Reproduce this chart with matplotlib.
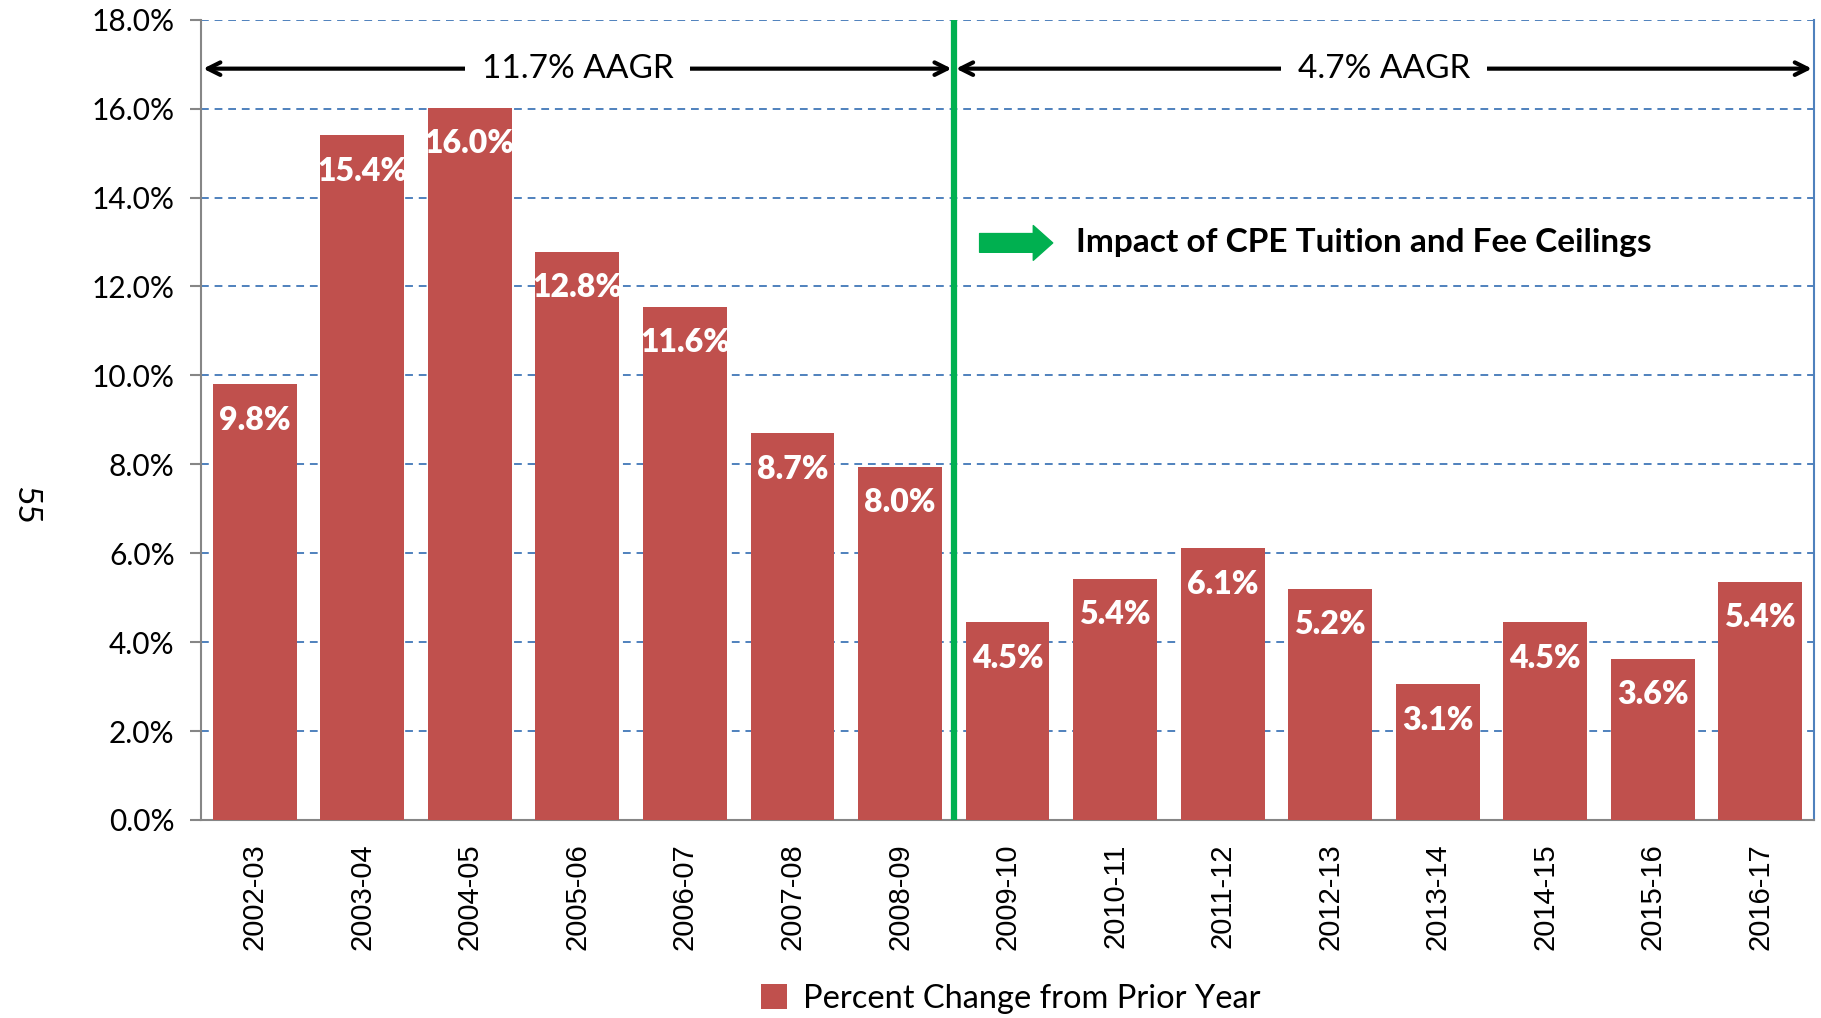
import matplotlib
matplotlib.use("Agg")
import matplotlib.pyplot as plt
from matplotlib.ticker import FuncFormatter, MultipleLocator

years = ["2002-03", "2003-04", "2004-05", "2005-06", "2006-07", "2007-08", "2008-09",
         "2009-10", "2010-11", "2011-12", "2012-13", "2013-14", "2014-15", "2015-16", "2016-17"]
pct_change = [9.80, 15.40, 16.02, 12.78, 11.55, 8.70, 7.95,
              4.45, 5.43, 6.12, 5.20, 3.05, 4.45, 3.63, 5.36]
bar_labels = ["9.8%", "15.4%", "16.0%", "12.8%", "11.6%", "8.7%", "8.0%",
              "4.5%", "5.4%", "6.1%", "5.2%", "3.1%", "4.5%", "3.6%", "5.4%"]
aagr_before = "11.7% AAGR"
aagr_after = "4.7% AAGR"
annotation = "Impact of CPE Tuition and Fee Ceilings"
legend_label = "Percent Change from Prior Year"

NARROW = ["Lato", "DejaVu Sans"]
ARIAL = ["Liberation Sans", "DejaVu Sans"]

bar_color = "#C0504D"
grid_color = "#4F81BD"
green = "#00B050"
axis_gray = "#868686"

fig = plt.figure(figsize=(18.21, 10.18), dpi=100)
ax = fig.add_axes([0.1104, 0.1945, 0.8858, 0.7861])

x = list(range(len(years)))
bars = ax.bar(x, pct_change, width=0.78, color=bar_color, label=legend_label, zorder=3)

for xi, v, lab in zip(x, pct_change, bar_labels):
    ax.annotate(lab, (xi, v), xytext=(0, -26), textcoords="offset points",
                ha="center", va="center", color="white", fontweight="heavy",
                fontsize=23, family=NARROW, zorder=5)

ax.set_xlim(-0.5, len(years) - 0.5)
ax.set_ylim(0, 18)
ax.yaxis.set_major_locator(MultipleLocator(2))
ax.yaxis.set_major_formatter(FuncFormatter(lambda v, p: f"{v:.1f}%"))
ax.grid(axis="y", color=grid_color, linestyle=(0, (4, 3)), linewidth=1.4, zorder=1)
ax.set_axisbelow(True)

ax.set_xticks(x)
ax.set_xticklabels(years, rotation=90, fontsize=21, family=ARIAL)
ax.tick_params(axis="x", length=0, pad=17)
ax.tick_params(axis="y", length=8, width=1.5, color=axis_gray, direction="out", pad=11)
for lab in ax.get_yticklabels():
    lab.set_family(NARROW)
    lab.set_fontsize(21.5)

ax.spines["left"].set_color(axis_gray)
ax.spines["left"].set_linewidth(1.5)
ax.spines["bottom"].set_color(axis_gray)
ax.spines["bottom"].set_linewidth(1.5)
ax.spines["right"].set_color(grid_color)
ax.spines["right"].set_linewidth(1.5)
ax.spines["top"].set_visible(False)

# divider
ax.axvline(6.5, color=green, linewidth=4.5, zorder=4)

# AAGR arrows
arrow_y = 16.9
for (x0, x1, txt) in [(-0.5, 6.5, aagr_before), (6.5, 14.5, aagr_after)]:
    mid = (x0 + x1) / 2
    for end in (x0 + 0.02, x1 - 0.02):
        ax.annotate("", xy=(end, arrow_y), xytext=(mid, arrow_y),
                    arrowprops=dict(arrowstyle="->,head_length=0.9,head_width=0.45", lw=3.0,
                                    color="black", shrinkA=0, shrinkB=0), zorder=4)
    ax.text(mid, arrow_y, txt, ha="center", va="center", fontsize=24,
            family=NARROW, zorder=6,
            bbox=dict(boxstyle="square,pad=0.5", fc="white", ec="none"))

# green arrow and annotation
ax.annotate("", xy=(7.42, 12.98), xytext=(6.74, 12.98),
            arrowprops=dict(arrowstyle="simple,head_length=1.4,head_width=2.5,tail_width=1.35",
                            color=green, shrinkA=0, shrinkB=0, mutation_scale=10), zorder=5)
ax.text(7.64, 12.98, annotation, ha="left", va="center", fontsize=24, fontweight="bold",
        family=NARROW, zorder=5)

# page number
fig.text(0.0137, 0.504, "55", rotation=-90, ha="center", va="center", fontsize=24, family=NARROW)

fig.legend(handles=[bars], labels=[legend_label], loc="center", bbox_to_anchor=(0.555, 0.019),
           frameon=False, prop=dict(family=NARROW, size=23.5), handlelength=0.8, handleheight=0.8,
           handletextpad=0.5)

fig.savefig("out.png", dpi=100)
